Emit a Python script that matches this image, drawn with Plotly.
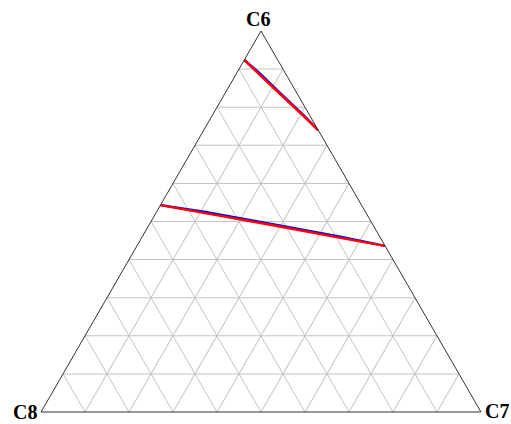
import plotly.graph_objects as go

# Ternary components: a = C6, b = C8, c = C7
blue1_a = [0.924, 0.890, 0.835, 0.780, 0.740]
blue1_b = [0.076, 0.059, 0.037, 0.014, 0.000]
blue1_c = [0.000, 0.051, 0.128, 0.206, 0.260]

red1_a = [0.924, 0.887, 0.832, 0.777, 0.740]
red1_b = [0.076, 0.061, 0.038, 0.015, 0.000]
red1_c = [0.000, 0.052, 0.130, 0.208, 0.260]

blue2_a = [0.543, 0.525, 0.493, 0.460, 0.436]
blue2_b = [0.457, 0.364, 0.227, 0.090, 0.000]
blue2_c = [0.000, 0.111, 0.280, 0.450, 0.564]

red2_a = [0.543, 0.522, 0.490, 0.457, 0.436]
red2_b = [0.457, 0.366, 0.228, 0.091, 0.000]
red2_c = [0.000, 0.112, 0.282, 0.452, 0.564]

axis_labels = ["C6", "C8", "C7"]

W, H = 511, 424
L, R, T, B = 41, 30, 31, 12

fig = go.Figure()
for a, b, c, col in [
    (blue1_a, blue1_b, blue1_c, "blue"),
    (red1_a, red1_b, red1_c, "red"),
    (blue2_a, blue2_b, blue2_c, "blue"),
    (red2_a, red2_b, red2_c, "red"),
]:
    fig.add_trace(go.Scatterternary(a=a, b=b, c=c, mode="lines",
                                    line=dict(color=col, width=2.5),
                                    showlegend=False, hoverinfo="skip"))

axis_common = dict(showticklabels=False, ticks="", dtick=0.1, showgrid=True,
                   gridcolor="#c4c4c4", gridwidth=1, linecolor="#333333",
                   linewidth=1, title=dict(text=""))

def px_to_paper(x, y):
    return (x - L) / (W - L - R), 1 - (y - T) / (H - T - B)

label_px = [(258, 19.5), (25, 411.5), (497, 411)]
annotations = []
for text, (x, y) in zip(axis_labels, label_px):
    px, py = px_to_paper(x, y)
    annotations.append(dict(text=text, x=px, y=py, xref="paper", yref="paper",
                            xanchor="center", yanchor="middle", showarrow=False,
                            font=dict(family="Liberation Serif", size=20,
                                      color="black", weight="bold")))

fig.update_layout(
    width=W, height=H,
    margin=dict(l=L, r=R, t=T, b=B),
    paper_bgcolor="white",
    ternary=dict(bgcolor="white", sum=1,
                 aaxis=axis_common, baxis=axis_common, caxis=axis_common),
    annotations=annotations,
)
fig.write_html(
    "out.html",
    config={"displayModeBar": False},
    post_script="document.body.style.margin='0';document.body.style.overflow='hidden';",
)
